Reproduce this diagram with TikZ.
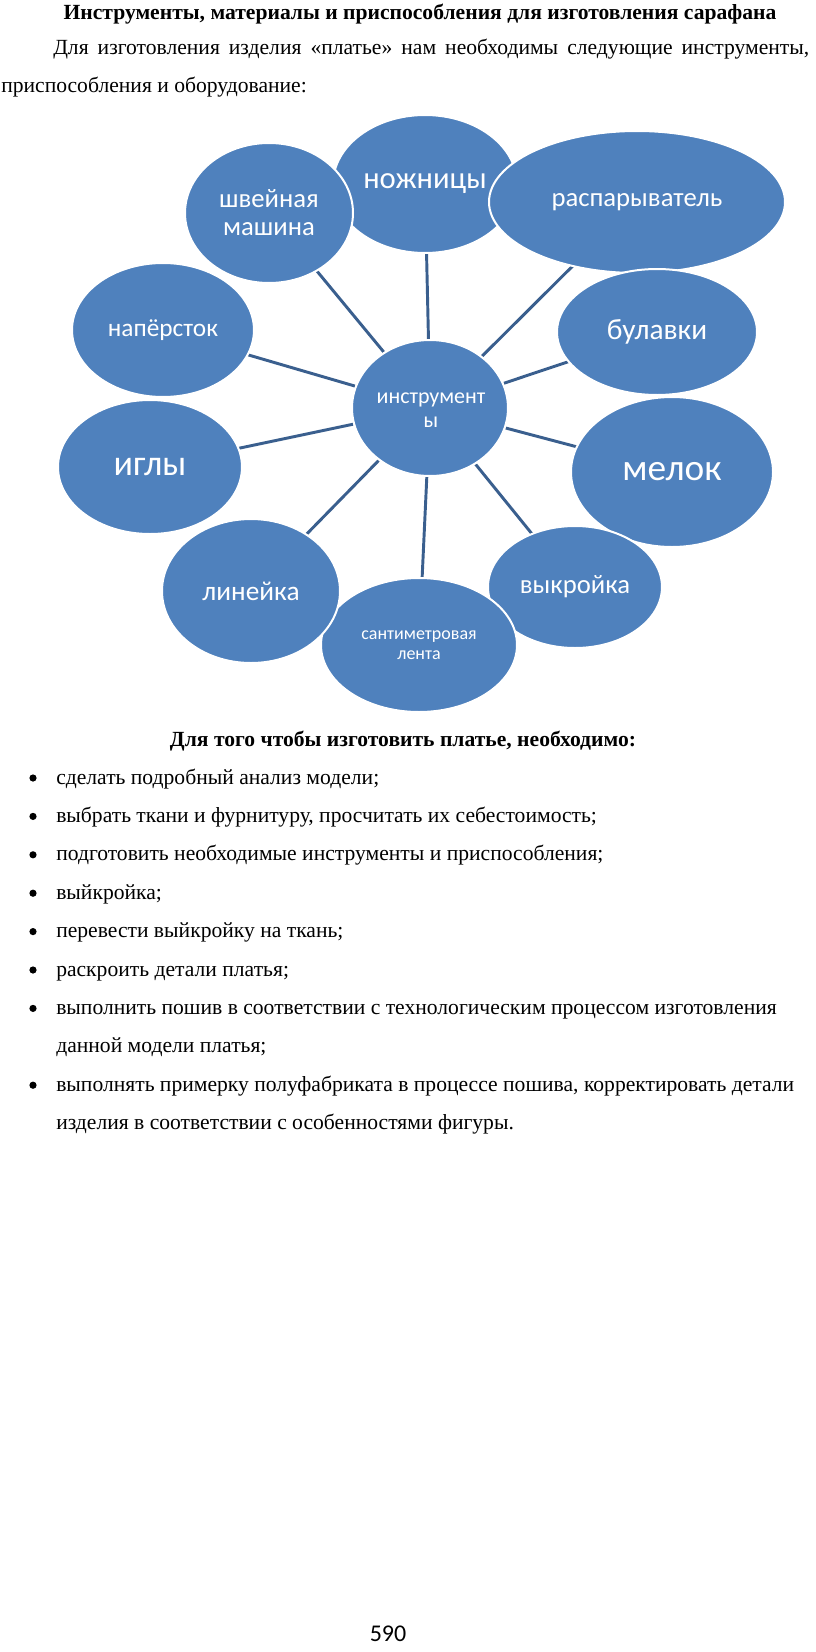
\documentclass[tikz,border=0pt]{standalone}
\usepackage{fontspec}
\setmainfont{Liberation Serif}
\newfontfamily\calib{Carlito}
\usetikzlibrary{shapes.geometric}
\definecolor{blu}{HTML}{4F81BD}
\definecolor{lin}{HTML}{3A5F8E}
\tikzset{
  el/.style={ellipse, fill=blu, draw=white, line width=1.5pt, inner sep=0pt, text=white, align=center},
  conn/.style={draw=lin, line width=2.2pt},
  body/.style={inner sep=0pt, font=\fontsize{16.2}{18}\selectfont},
  bul/.style={fill=black}
}
\begin{document}
\begin{tikzpicture}[x=0.75pt,y=-0.75pt]
\useasboundingbox (0,0) rectangle (816,1652);
% text above
\node[body, anchor=base, font=\fontsize{16.2}{18}\selectfont\bfseries] (title) at (420,20) {Инструменты, материалы и приспособления для изготовления сарафана};
\node[body, anchor=base west] (p1) at (53,55) {\makebox[567pt][s]{Для изготовления изделия «платье» нам необходимы следующие инструменты,}};
\node[body, anchor=base west] (p2) at (1,93) {приспособления и оборудование:};
% centre node
\node[el, minimum width=117pt, minimum height=102pt] (c) at (430,408) {};
% outer node positions
\coordinate (pn) at (425,184);
\coordinate (pr) at (637,202);
\coordinate (pb) at (657,332);
\coordinate (pm) at (672,472);
\coordinate (pv) at (575,587);
\coordinate (ps) at (419,645);
\coordinate (pl) at (251,591);
\coordinate (pi) at (150,467);
\coordinate (pa) at (163,330);
\coordinate (pw) at (269,213);
% connectors behind
\foreach \p in {pn,pr,pb,pm,pv,ps,pl,pi,pa,pw} \draw[conn] (c) -- (\p);
\node[el, minimum width=117pt, minimum height=102pt] (c2) at (c) {};
\node[text=white, inner sep=0pt, align=center, font=\calib\fontsize{16.5}{18}\selectfont] (ct) at (431,410) {инструмент\\ы};
\node[el, minimum width=138pt, minimum height=103.5pt, font=\calib\fontsize{23}{26}\selectfont] (n) at (pn) {ножницы};
\node[el, minimum width=222pt, minimum height=106.5pt, font=\calib\fontsize{20}{22}\selectfont] (r) at (pr) {распарыватель};
\node[el, minimum width=150pt, minimum height=94.5pt, font=\calib\fontsize{22}{24}\selectfont] (b) at (pb) {булавки};
\node[el, minimum width=151.5pt, minimum height=112.5pt, font=\calib\fontsize{28}{30}\selectfont] (m) at (pm) {мелок};
\node[el, minimum width=130.5pt, minimum height=91.5pt, font=\calib\fontsize{20}{22}\selectfont] (v) at (pv) {выкройка};
\node[el, minimum width=147pt, minimum height=100.5pt, font=\calib\fontsize{13.5}{15}\selectfont] (s) at (ps) {сантиметровая\\лента};
\node[el, minimum width=133.5pt, minimum height=108pt, font=\calib\fontsize{20.5}{22}\selectfont] (l) at (pl) {линейка};
\node[el, minimum width=138pt, minimum height=100.5pt, font=\calib\fontsize{27}{30}\selectfont] (i) at (pi) {иглы};
\node[el, minimum width=136.5pt, minimum height=100.5pt, font=\calib\fontsize{19}{21}\selectfont] (a) at (pa) {напёрсток};
\node[el, minimum width=126pt, minimum height=105pt, font=\calib\fontsize{20}{21}\selectfont] (w) at (pw) {швейная\\машина};
% list
\node[body, anchor=base, font=\fontsize{16.2}{18}\selectfont\bfseries] (h) at (403,746) {Для того чтобы изготовить платье, необходимо:};
\foreach \t [count=\k from 0] in {
  {сделать подробный анализ модели;},
  {выбрать ткани и фурнитуру, просчитать их себестоимость;},
  {подготовить необходимые инструменты и приспособления;},
  {выйкройка;},
  {перевести выйкройку на ткань;},
  {раскроить детали платья;},
  {выполнить пошив в соответствии с технологическим процессом изготовления},
  {данной модели платья;},
  {выполнять примерку полуфабриката в процессе пошива, корректировать детали},
  {изделия в соответствии с особенностями фигуры.}}
{
  \node[body, anchor=base west] (L\k) at (56,784+38.4*\k) {\t};
}
\foreach \k in {0,1,2,3,4,5,6,8}
  \fill[bul] (33,778+38.4*\k) circle[radius=2.7pt];
\node[anchor=base, inner sep=0pt, font=\calib\fontsize{18}{20}\selectfont] (pg) at (388,1641) {590};
\end{tikzpicture}
\end{document}
